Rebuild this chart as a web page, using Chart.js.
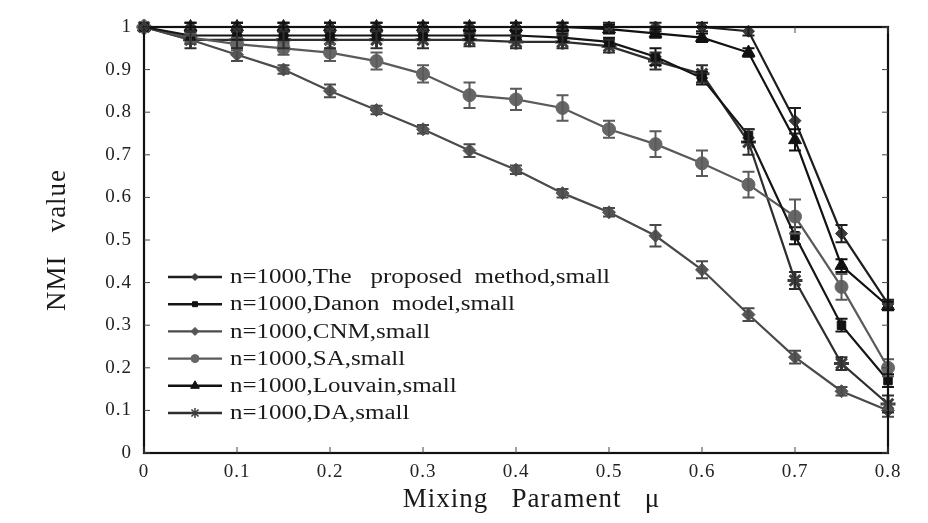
<!DOCTYPE html>
<html>
<head>
<meta charset="utf-8">
<script src="https://cdn.jsdelivr.net/npm/chart.js@4/dist/chart.umd.min.js"></script>
<style>
  html, body { margin: 0; padding: 0; background: #fff; }
  #wrap { width: 928px; height: 523px; }
</style>
</head>
<body>
<div id="wrap"><canvas id="c" width="928" height="523"></canvas></div>
<script>
// Mixing parameter values (x axis)
const mu = [0, 0.05, 0.1, 0.15, 0.2, 0.25, 0.3, 0.35, 0.4, 0.45, 0.5, 0.55, 0.6, 0.65, 0.7, 0.75, 0.8];

// NMI values per method
const proposed = [1, 1, 1, 1, 1, 1, 1, 1, 1, 1, 1, 1, 1, 0.99, 0.78, 0.515, 0.35];
const danon    = [1, 0.98, 0.98, 0.98, 0.98, 0.98, 0.98, 0.98, 0.98, 0.975, 0.965, 0.93, 0.88, 0.745, 0.51, 0.30, 0.17];
const cnm      = [1, 0.97, 0.935, 0.9, 0.85, 0.805, 0.76, 0.71, 0.665, 0.61, 0.565, 0.51, 0.43, 0.325, 0.225, 0.145, 0.1];
const sa       = [1, 0.975, 0.96, 0.95, 0.94, 0.92, 0.89, 0.84, 0.83, 0.81, 0.76, 0.725, 0.68, 0.63, 0.555, 0.39, 0.2];
const louvain  = [1, 1, 1, 1, 1, 1, 1, 1, 1, 1, 0.995, 0.985, 0.975, 0.94, 0.735, 0.44, 0.345];
const da       = [1, 0.97, 0.97, 0.97, 0.97, 0.97, 0.97, 0.97, 0.965, 0.965, 0.955, 0.92, 0.89, 0.73, 0.405, 0.21, 0.115];

// Half-widths of the error bars
const proposedErr = [0, 0.01, 0.01, 0.01, 0.01, 0.01, 0.01, 0.01, 0.01, 0.01, 0.01, 0.01, 0.01, 0.01, 0.03, 0.02, 0.01];
const danonErr    = [0, 0.01, 0.01, 0.01, 0.01, 0.01, 0.01, 0.01, 0.01, 0.01, 0.01, 0.02, 0.015, 0.015, 0.02, 0.015, 0.015];
const cnmErr      = [0, 0.01, 0.015, 0.01, 0.015, 0.01, 0.01, 0.015, 0.01, 0.01, 0.01, 0.025, 0.02, 0.015, 0.015, 0.01, 0.015];
const saErr       = [0, 0.01, 0.015, 0.015, 0.02, 0.02, 0.02, 0.03, 0.025, 0.03, 0.02, 0.03, 0.03, 0.03, 0.04, 0.03, 0.02];
const louvainErr  = [0, 0.01, 0.01, 0.01, 0.01, 0.01, 0.01, 0.01, 0.01, 0.01, 0.01, 0.01, 0.01, 0.01, 0.025, 0.015, 0.01];
const daErr       = [0, 0.02, 0.02, 0.02, 0.02, 0.02, 0.02, 0.015, 0.015, 0.015, 0.015, 0.02, 0.02, 0.03, 0.02, 0.015, 0.02];

// Axis ticks
const yTicks = [0, 0.1, 0.2, 0.3, 0.4, 0.5, 0.6, 0.7, 0.8, 0.9, 1];
const xTicks = [0, 0.1, 0.2, 0.3, 0.4, 0.5, 0.6, 0.7, 0.8];

const seriesNames = [
  'n=1000,The   proposed  method,small',
  'n=1000,Danon  model,small',
  'n=1000,CNM,small',
  'n=1000,SA,small',
  'n=1000,Louvain,small',
  'n=1000,DA,small'
];

const SERIF = '"Liberation Serif", "DejaVu Serif", serif';

function pts(vals) { return mu.map((x, i) => ({ x: x, y: vals[i] })); }

function series(label, vals, err, color, style, radius, lineColor, markerW) {
  return {
    label: label,
    data: pts(vals),
    err: err,
    borderColor: lineColor,
    backgroundColor: color,
    pointBackgroundColor: color,
    pointBorderColor: color,
    pointStyle: style,
    pointRadius: radius,
    pointBorderWidth: markerW || 1,
    borderWidth: 2.2,
    tension: 0,
    clip: false
  };
}

const datasets = [
  series(seriesNames[0], proposed, proposedErr, '#3a3a3a', 'rectRot', 6, '#1e1e1e'),
  series(seriesNames[1], danon, danonErr, '#111111', 'rect', 6, '#151515'),
  series(seriesNames[2], cnm, cnmErr, '#555555', 'rectRot', 6.5, '#4a4a4a'),
  series(seriesNames[3], sa, saErr, '#666666', 'circle', 6.5, '#5a5a5a'),
  series(seriesNames[4], louvain, louvainErr, '#111111', 'triangle', 7.5, '#111111'),
  series(seriesNames[5], da, daErr, '#3c3c3c', 'star', 7.5, '#2e2e2e', 3)
];

// Error bars, plot frame with inward ticks, and in-plot legend
const decorations = {
  id: 'decorations',
  beforeDraw(chart) {
    // slightly open set type for tick labels and axis titles
    chart.ctx.letterSpacing = '1px';
  },
  afterDatasetsDraw(chart) {
    const ctx = chart.ctx;
    const xs = chart.scales.x, ys = chart.scales.y;
    ctx.save();
    chart.data.datasets.forEach(ds => {
      ctx.strokeStyle = ds.borderColor;
      ctx.lineWidth = 2;
      ds.data.forEach((p, i) => {
        const e = ds.err[i];
        if (!e) return;
        const px = xs.getPixelForValue(p.x);
        const y1 = ys.getPixelForValue(p.y + e);
        const y2 = ys.getPixelForValue(p.y - e);
        ctx.beginPath();
        ctx.moveTo(px, y1); ctx.lineTo(px, y2);
        ctx.moveTo(px - 6, y1); ctx.lineTo(px + 6, y1);
        ctx.moveTo(px - 6, y2); ctx.lineTo(px + 6, y2);
        ctx.stroke();
      });
    });
    ctx.restore();
  },
  afterDraw(chart) {
    const ctx = chart.ctx;
    const a = chart.chartArea;
    const xs = chart.scales.x, ys = chart.scales.y;
    ctx.save();
    ctx.strokeStyle = '#111';
    ctx.lineWidth = 2.2;
    ctx.strokeRect(a.left, a.top, a.right - a.left, a.bottom - a.top);
    ctx.lineWidth = 1;
    ctx.strokeStyle = '#444';
    ctx.beginPath();
    yTicks.forEach(v => {
      const py = ys.getPixelForValue(v);
      ctx.moveTo(a.left, py); ctx.lineTo(a.left + 6, py);
      ctx.moveTo(a.right, py); ctx.lineTo(a.right - 6, py);
    });
    xTicks.forEach(v => {
      const px = xs.getPixelForValue(v);
      ctx.moveTo(px, a.bottom); ctx.lineTo(px, a.bottom - 6);
      ctx.moveTo(px, a.top); ctx.lineTo(px, a.top + 6);
    });
    ctx.stroke();

    // legend inside the plot area; wide-set text
    const lx = a.left + 24, lineLen = 54, rowH = 27.2;
    let ly = a.top + 250;
    ctx.font = '20px ' + SERIF;
    ctx.letterSpacing = '0px';
    ctx.textBaseline = 'middle';
    ctx.textAlign = 'left';
    chart.data.datasets.forEach(ds => {
      ctx.strokeStyle = ds.borderColor;
      ctx.lineWidth = 2.4;
      ctx.beginPath();
      ctx.moveTo(lx, ly); ctx.lineTo(lx + lineLen, ly);
      ctx.stroke();
      ctx.fillStyle = ds.pointBackgroundColor;
      ctx.strokeStyle = ds.pointBorderColor;
      const bw = Math.min(1.5, ds.pointBorderWidth);
      ctx.lineWidth = bw;
      Chart.helpers.drawPoint(ctx, {
        pointStyle: ds.pointStyle,
        radius: Math.max(3, ds.pointRadius - 2.5),
        rotation: 0,
        borderWidth: bw
      }, lx + lineLen / 2, ly);
      ctx.save();
      ctx.translate(lx + lineLen + 8, ly + 1);
      ctx.scale(1.25, 1);
      ctx.fillStyle = '#1a1a1a';
      ctx.fillText(ds.label, 0, 0);
      ctx.restore();
      ly += rowH;
    });
    ctx.restore();
  }
};

new Chart(document.getElementById('c'), {
  type: 'line',
  data: { datasets: datasets },
  plugins: [decorations],
  options: {
    responsive: false,
    animation: false,
    events: [],
    layout: { padding: { left: 0, right: 40, top: 27, bottom: 0 } },
    plugins: { legend: { display: false }, tooltip: { enabled: false } },
    scales: {
      x: {
        type: 'linear',
        min: 0, max: 0.8,
        afterFit(s) { s.height = 70; },
        afterBuildTicks(s) { s.ticks = xTicks.map(v => ({ value: v })); },
        grid: { display: false, drawTicks: false },
        border: { display: false },
        ticks: {
          padding: 8,
          color: '#222',
          font: { family: SERIF, size: 19 },
          callback: v => String(+v.toFixed(2))
        },
        title: {
          display: true,
          text: '    Mixing   Parament   μ',
          color: '#1a1a1a',
          font: { family: SERIF, size: 27 },
          padding: { top: 0, bottom: 7 }
        }
      },
      y: {
        type: 'linear',
        min: 0, max: 1,
        afterFit(s) { s.width = 144; },
        afterBuildTicks(s) { s.ticks = yTicks.map(v => ({ value: v })); },
        grid: { display: false, drawTicks: false },
        border: { display: false },
        ticks: {
          padding: 12,
          color: '#222',
          font: { family: SERIF, size: 19 },
          callback: v => String(+v.toFixed(2))
        },
        title: {
          display: true,
          text: 'NMI   value',
          color: '#1a1a1a',
          font: { family: SERIF, size: 27 },
          padding: { top: 42, bottom: 0 }
        }
      }
    }
  }
});
</script>
</body>
</html>
